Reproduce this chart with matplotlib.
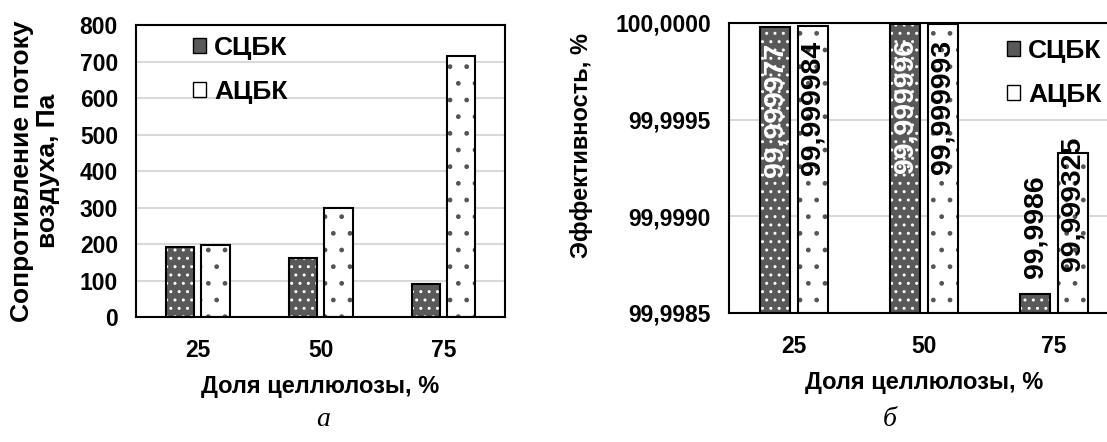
import numpy as np
import matplotlib.pyplot as plt
from matplotlib.patches import Patch
from matplotlib.ticker import FuncFormatter, MultipleLocator

plt.rcParams["font.family"] = ["Liberation Sans", "DejaVu Sans"]
plt.rcParams["font.weight"] = "bold"
plt.rcParams["hatch.linewidth"] = 1.0

# data
categories = ["25", "50", "75"]
series = ["СЦБК", "АЦБК"]
resistance_s = [191, 162, 90]
resistance_a = [196, 300, 715]
eff_s = [99.999977, 99.999996, 99.9986]
eff_a = [99.999984, 99.999993, 99.999325]
eff_s_labels = ["99,999977", "99,999996", "99,9986"]
eff_a_labels = ["99,999984", "99,999993", "99,999325"]

dark = "#595959"
dots_dark = "white"
dots_light = "#555555"
x = np.arange(len(categories))
w = 0.23
off = 0.145


def hatched_bars(ax, xs, vals, face, dots, hatch, bottom=0):
    heights = np.array(vals) - bottom
    ax.bar(xs, heights, w, bottom=bottom, color=face, edgecolor=dots,
           linewidth=0, hatch=hatch, zorder=2)
    ax.bar(xs, heights, w, bottom=bottom, fill=False, edgecolor="black",
           linewidth=1.5, zorder=3)


def style_axes(ax):
    for s in ax.spines.values():
        s.set_linewidth(1.5)
    ax.tick_params(length=0, labelsize=16.5)
    ax.tick_params(axis="y", pad=13)
    ax.tick_params(axis="x", pad=16)
    ax.yaxis.grid(True, color="#d9d9d9", linewidth=1.5, zorder=0)
    ax.set_axisbelow(True)
    ax.set_xticks(x)
    ax.set_xticklabels(categories)
    ax.set_xlim(-0.5, 2.5)
    ax.set_xlabel("Доля целлюлозы, %", fontsize=17, fontweight="bold", labelpad=9.5)


def add_legend(ax, anchor):
    handles = [Patch(facecolor=dark, edgecolor="black", label=series[0]),
               Patch(facecolor="white", edgecolor="black", label=series[1])]
    ax.legend(handles=handles, loc="upper left", bbox_to_anchor=anchor,
              frameon=False, fontsize=19, handlelength=0.5, handleheight=0.5,
              handletextpad=0.3, labelspacing=0.75, borderaxespad=0, borderpad=0)


fig = plt.figure(figsize=(11.07, 4.42), dpi=100)

# left chart
ax1 = fig.add_axes([0.1229, 0.2828, 0.3333, 0.6606])
hatched_bars(ax1, x - off, resistance_s, dark, dots_dark, "..")
hatched_bars(ax1, x + off, resistance_a, "white", dots_light, ".")
style_axes(ax1)
ax1.set_ylim(0, 800)
ax1.yaxis.set_major_locator(MultipleLocator(100))
ax1.set_ylabel("Сопротивление потоку\nвоздуха, Па", fontsize=19, fontweight="bold",
               labelpad=14, linespacing=1.1)
add_legend(ax1, (0.155, 0.963))

# right chart
base = 99.9985
ax2 = fig.add_axes([0.6585, 0.2919, 0.3523, 0.6561])
hatched_bars(ax2, x - off, eff_s, dark, dots_dark, "..", bottom=base)
hatched_bars(ax2, x + off, eff_a, "white", dots_light, ".", bottom=base)
style_axes(ax2)
ax2.set_ylim(base, 100.0)
ax2.yaxis.set_major_locator(MultipleLocator(0.0005))
ax2.yaxis.set_major_formatter(FuncFormatter(lambda v, p: f"{v:.4f}".replace(".", ",")))
ax2.set_ylabel("Эффективность, %", fontsize=17, fontweight="bold", labelpad=16)
ax2.yaxis.label.set_y(0.576)
add_legend(ax2, (0.713, 0.945))

# value labels
s_pos = [(-11, "top", "white"), (-11, "top", "white"), (11, "bottom", "black")]
a_pos = [(-11, "top", "black"), (-11, "top", "black"), (12, "top", "black")]
for i in range(len(categories)):
    dy, va, c = s_pos[i]
    ax2.annotate(eff_s_labels[i], (x[i] - off, eff_s[i]), xytext=(0, dy),
                 textcoords="offset points", rotation=90, ha="center", va=va,
                 fontsize=20.5, fontweight="bold", color=c, zorder=5, annotation_clip=False)
    dy, va, c = a_pos[i]
    ax2.annotate(eff_a_labels[i], (x[i] + off, eff_a[i]), xytext=(0, dy),
                 textcoords="offset points", rotation=90, ha="center", va=va,
                 fontsize=20.5, fontweight="bold", color=c, zorder=5, annotation_clip=False)

# captions
fig.text(323 / 1107, 1 - 420 / 442, "а", family="Liberation Serif", style="italic",
         fontweight="normal", fontsize=20, ha="center", va="center")
fig.text(890 / 1107, 1 - 420 / 442, "б", family="Liberation Serif", style="italic",
         fontweight="normal", fontsize=20, ha="center", va="center")

fig.savefig("out.png", dpi=100)
